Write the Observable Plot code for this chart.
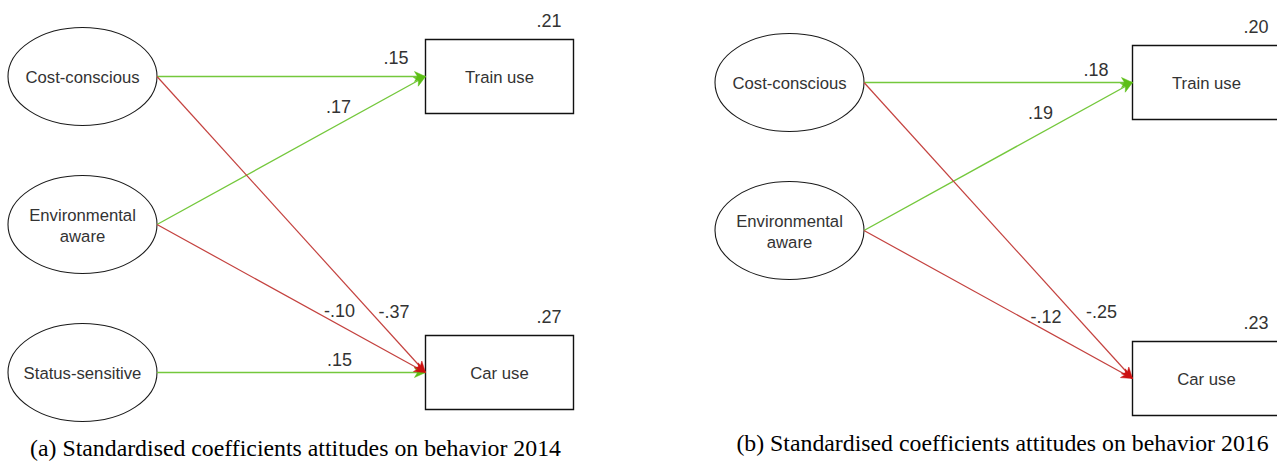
<!DOCTYPE html>
<html>
<head>
<meta charset="utf-8">
<script src="https://cdn.jsdelivr.net/npm/d3@7"></script>
<script src="https://cdn.jsdelivr.net/npm/@observablehq/plot@0.6"></script>
<style>
  html, body { margin: 0; padding: 0; background: #fff; }
  body { width: 1277px; height: 463px; overflow: hidden; position: relative; }
  .panel { position: absolute; width: 600px; }
  .panel figure { margin: 0; width: 600px; max-width: none; }
  .panel svg { max-width: none !important; width: 600px; }
  .panel figcaption {
    font-family: "Liberation Serif", "Times New Roman", serif;
    font-size: 23.8px; line-height: 23.8px; color: #000;
    width: 591px; text-align: center; margin: 0; padding: 0;
  }
</style>
</head>
<body>
<div id="panelA" class="panel" style="left:0px;top:0px"></div>
<div id="panelB" class="panel" style="left:707px;top:6px"></div>
<script>
// ---------------- data ----------------
const attitudes2014 = ["Cost-conscious", "Environmental\naware", "Status-sensitive"];
const behaviors2014 = ["Train use", "Car use"];
const r2_2014 = [0.21, 0.27];
const pathFrom2014 = ["Cost-conscious", "Environmental\naware", "Cost-conscious", "Environmental\naware", "Status-sensitive"];
const pathTo2014   = ["Train use", "Train use", "Car use", "Car use", "Car use"];
const coef2014     = [0.15, 0.17, -0.37, -0.10, 0.15];
const caption2014  = "(a) Standardised coefficients attitudes on behavior 2014";

const attitudes2016 = ["Cost-conscious", "Environmental\naware"];
const behaviors2016 = ["Train use", "Car use"];
const r2_2016 = [0.20, 0.23];
const pathFrom2016 = ["Cost-conscious", "Environmental\naware", "Cost-conscious", "Environmental\naware"];
const pathTo2016   = ["Train use", "Train use", "Car use", "Car use"];
const coef2016     = [0.18, 0.19, -0.25, -0.12];
const caption2016  = "(b) Standardised coefficients attitudes on behavior 2016";

// ---------------- layout & style ----------------
const COL_DOMAIN = [0, 1], COL_RANGE = [82, 499];   // attitude column, behavior column
const ROW_DOMAIN = [0, 2], ROW_RANGE = [76, 372];
const BEHAVIOR_ROWS = [0, 2];
const ELLIPSE = {rx: 74.5, ry: 49};
const BOX = {w: 148, h: 74};
const R2_OFFSET = {dx: -12, dy: -18};
const labelLayout2014 = [{t: 0.89, dy: -18}, {t: 0.676, dy: -17}, {t: 0.883, dy: -26}, {t: 0.68, dy: -13.5}, {t: 0.68, dy: -12}];
const labelLayout2016 = [{t: 0.864, dy: -12}, {t: 0.657, dy: -20}, {t: 0.885, dy: -32.5}, {t: 0.678, dy: -13.5}];
const GREEN_LINE = "#74c83c", GREEN_HEAD = "#5cbf16";
const RED_LINE = "#c4423f", RED_HEAD = "#cc1010";
const SANS = "'Liberation Sans', Arial, sans-serif";

const ellipseSymbol = {
  draw(ctx) {
    const rx = ELLIPSE.rx, ry = ELLIPSE.ry, k = 0.5522848;
    ctx.moveTo(rx, 0);
    ctx.bezierCurveTo(rx, ry * k, rx * k, ry, 0, ry);
    ctx.bezierCurveTo(-rx * k, ry, -rx, ry * k, -rx, 0);
    ctx.bezierCurveTo(-rx, -ry * k, -rx * k, -ry, 0, -ry);
    ctx.bezierCurveTo(rx * k, -ry, rx, -ry * k, rx, 0);
    ctx.closePath();
  }
};
const boxSymbol = {
  draw(ctx) { ctx.rect(-BOX.w / 2, -BOX.h / 2, BOX.w, BOX.h); }
};
const headSymbol = {
  draw(ctx) {
    ctx.moveTo(0, 0);
    ctx.lineTo(-11, -5);
    ctx.lineTo(-8, 0);
    ctx.lineTo(-11, 5);
    ctx.closePath();
  }
};

// ".15", "-.37" style (hyphen minus, no leading zero)
const fmt = v => (v < 0 ? "-" : "") + Math.abs(v).toFixed(2).replace(/^0/, "");

function drawPanel(el, {attitudes, behaviors, r2, from, to, coef, caption, labels, svgHeight}) {
  const X = d3.scaleLinear(COL_DOMAIN, COL_RANGE);
  const Y = d3.scaleLinear(ROW_DOMAIN, ROW_RANGE);
  const attNodes = attitudes.map((name, i) => ({name, col: 0, row: i}));
  const behNodes = behaviors.map((name, i) => ({name, col: 1, row: BEHAVIOR_ROWS[i], r2: r2[i]}));
  const byName = new Map([...attNodes, ...behNodes].map(d => [d.name, d]));
  const edges = coef.map((c, i) => {
    const s = byName.get(from[i]), t = byName.get(to[i]);
    const x1p = X(s.col) + ELLIPSE.rx, y1p = Y(s.row);
    const x2p = X(t.col) - BOX.w / 2, y2p = Y(t.row);
    const L = labels[i];
    return {
      coef: c,
      x1: X.invert(x1p), y1: Y.invert(y1p), x2: X.invert(x2p), y2: Y.invert(y2p),
      angle: Math.atan2(y2p - y1p, x2p - x1p) * 180 / Math.PI,
      lx: X.invert(x1p + (x2p - x1p) * L.t),
      ly: Y.invert(y1p + (y2p - y1p) * L.t + L.dy)
    };
  });
  const chart = Plot.plot({
    width: 600,
    height: svgHeight,
    margin: 0,
    caption,
    x: {domain: COL_DOMAIN, range: COL_RANGE, axis: null},
    y: {domain: ROW_DOMAIN, range: ROW_RANGE, axis: null},
    style: {background: "white", overflow: "visible"},
    marks: [
      Plot.dot(attNodes, {x: "col", y: "row", symbol: ellipseSymbol, fill: "white", stroke: "#1a1a1a", strokeWidth: 1.1}),
      Plot.dot(behNodes, {x: "col", y: "row", symbol: boxSymbol, fill: "white", stroke: "#111", strokeWidth: 1.4}),
      Plot.link(edges, {filter: d => d.coef >= 0, x1: "x1", y1: "y1", x2: "x2", y2: "y2", stroke: GREEN_LINE, strokeWidth: 1.4}),
      Plot.link(edges, {filter: d => d.coef < 0, x1: "x1", y1: "y1", x2: "x2", y2: "y2", stroke: RED_LINE, strokeWidth: 1.2}),
      Plot.dot(edges, {filter: d => d.coef >= 0, x: "x2", y: "y2", rotate: "angle", symbol: headSymbol, fill: GREEN_HEAD, stroke: GREEN_HEAD, strokeWidth: 0.5}),
      Plot.dot(edges, {filter: d => d.coef < 0, x: "x2", y: "y2", rotate: "angle", symbol: headSymbol, fill: RED_HEAD, stroke: RED_HEAD, strokeWidth: 0.5}),
      Plot.text([...attNodes, ...behNodes], {x: "col", y: "row", text: "name", fontSize: 16.7, fill: "#333", lineHeight: 1.26, fontFamily: SANS}),
      Plot.text(edges, {x: "lx", y: "ly", text: d => fmt(d.coef), fontSize: 18, fill: "#333", fontFamily: SANS}),
      Plot.text(behNodes, {
        x: d => X.invert(X(d.col) + BOX.w / 2 + R2_OFFSET.dx),
        y: d => Y.invert(Y(d.row) - BOX.h / 2 + R2_OFFSET.dy),
        text: d => fmt(d.r2), textAnchor: "end", fontSize: 18, fill: "#333", fontFamily: SANS
      })
    ]
  });
  el.appendChild(chart);
}

drawPanel(document.getElementById("panelA"), {
  attitudes: attitudes2014, behaviors: behaviors2014, r2: r2_2014,
  from: pathFrom2014, to: pathTo2014, coef: coef2014, caption: caption2014,
  labels: labelLayout2014, svgHeight: 437
});
drawPanel(document.getElementById("panelB"), {
  attitudes: attitudes2016, behaviors: behaviors2016, r2: r2_2016,
  from: pathFrom2016, to: pathTo2016, coef: coef2016, caption: caption2016,
  labels: labelLayout2016, svgHeight: 426
});
</script>
</body>
</html>
